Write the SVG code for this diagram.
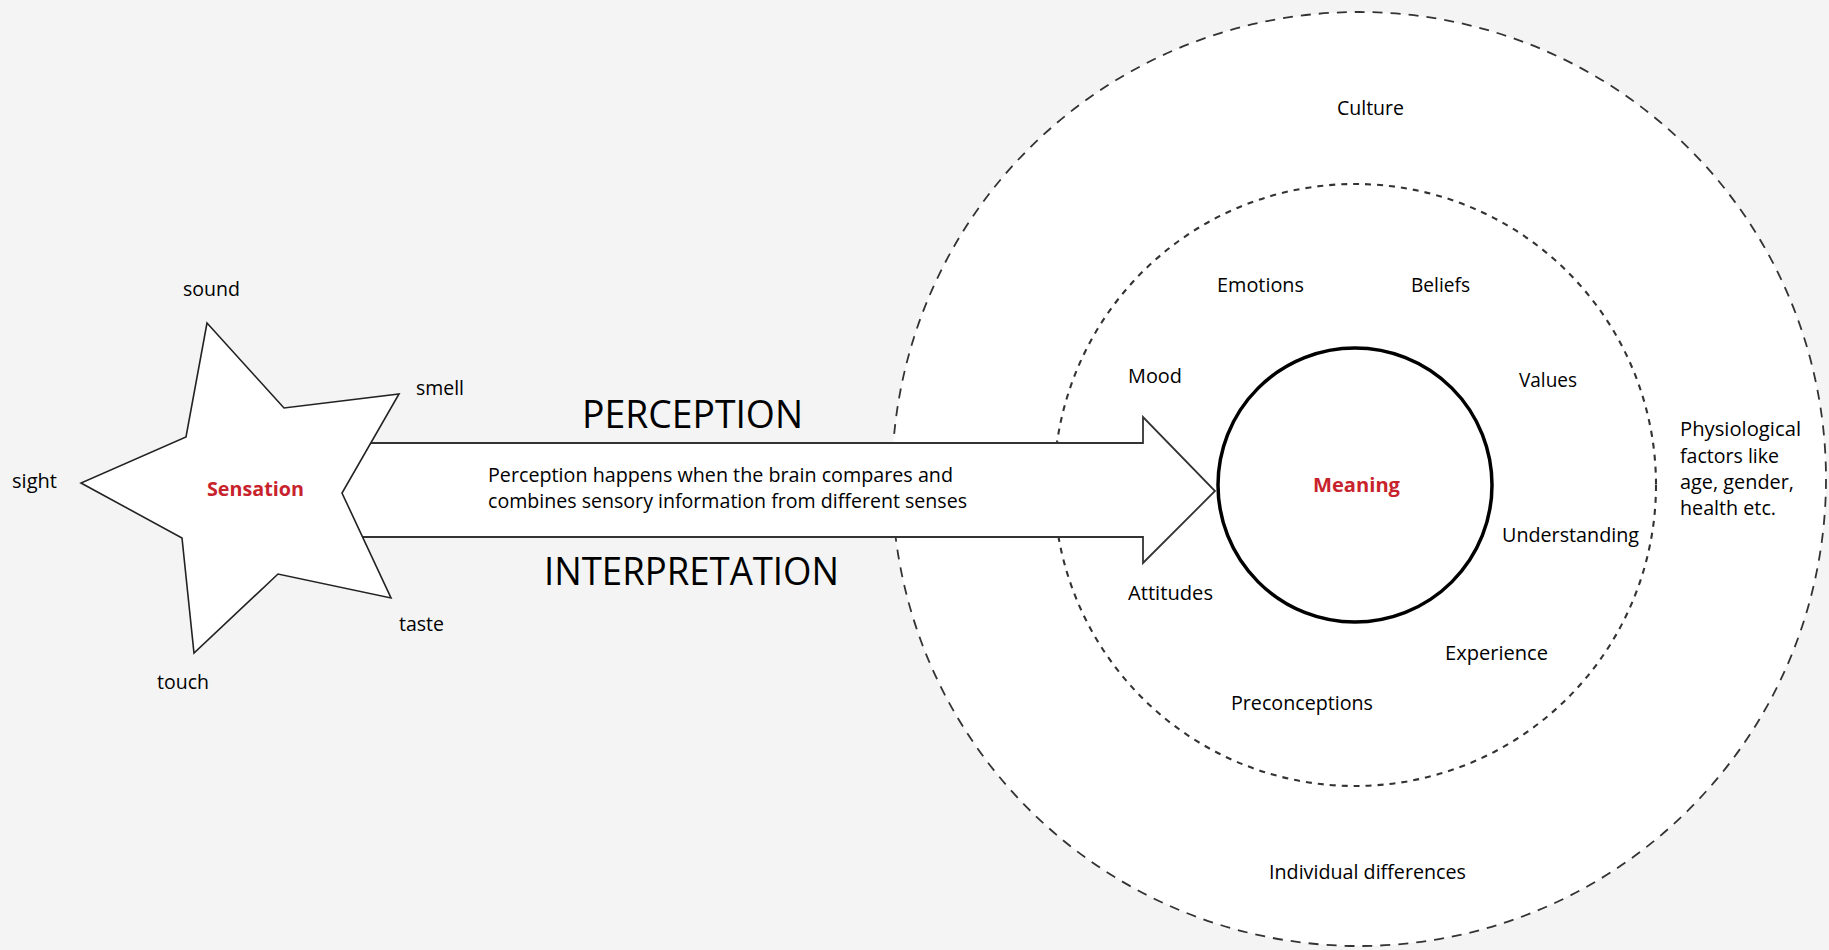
<svg xmlns="http://www.w3.org/2000/svg" width="1829" height="950" viewBox="0 0 1829 950">
  <style>
    text { font-family: "Open Sans", "Noto Sans", "Liberation Sans", sans-serif; fill: #000; font-size: 20px; }
    .big { font-size: 39px; }
    .key { font-weight: bold; fill: #c8232c; }
    .ring { fill: #fff; stroke: #333; }
  </style>
  <rect width="1829" height="950" fill="#f4f4f4"/>

  <!-- influence rings -->
  <g id="outer-ring">
    <circle class="ring" cx="1359" cy="479" r="467" stroke-width="1.8" stroke-dasharray="10 8"/>
    <text x="1337" y="115" textLength="67" lengthAdjust="spacingAndGlyphs">Culture</text>
    <text x="1269" y="879" textLength="197" lengthAdjust="spacingAndGlyphs">Individual differences</text>
    <text x="1680" y="436" textLength="121" lengthAdjust="spacingAndGlyphs">Physiological</text>
    <text x="1680" y="463" textLength="99" lengthAdjust="spacingAndGlyphs">factors like</text>
    <text x="1680" y="489" textLength="114" lengthAdjust="spacingAndGlyphs">age, gender,</text>
    <text x="1680" y="515" textLength="96" lengthAdjust="spacingAndGlyphs">health etc.</text>
  </g>

  <g id="middle-ring">
    <circle class="ring" cx="1355" cy="485" r="301" stroke-width="2.1" stroke-dasharray="6 6"/>
    <text x="1217" y="292" textLength="87" lengthAdjust="spacingAndGlyphs">Emotions</text>
    <text x="1411" y="292" textLength="59" lengthAdjust="spacingAndGlyphs">Beliefs</text>
    <text x="1128" y="383" textLength="54" lengthAdjust="spacingAndGlyphs">Mood</text>
    <text x="1519" y="387" textLength="58" lengthAdjust="spacingAndGlyphs">Values</text>
    <text x="1502" y="542" textLength="137" lengthAdjust="spacingAndGlyphs">Understanding</text>
    <text x="1128" y="600" textLength="85" lengthAdjust="spacingAndGlyphs">Attitudes</text>
    <text x="1445" y="660" textLength="103" lengthAdjust="spacingAndGlyphs">Experience</text>
    <text x="1231" y="710" textLength="142" lengthAdjust="spacingAndGlyphs">Preconceptions</text>
  </g>

  <!-- connector: wide arrow from sensation to meaning -->
  <g id="connectors">
    <polygon points="330,443 1143,443 1143,417 1215,491 1143,563 1143,537 330,537" fill="#fff" stroke="#333" stroke-width="1.8" stroke-linejoin="miter"/>
    <text class="big" x="582" y="428" textLength="221" lengthAdjust="spacingAndGlyphs">PERCEPTION</text>
    <text class="big" x="544" y="585" textLength="295" lengthAdjust="spacingAndGlyphs">INTERPRETATION</text>
    <text x="488" y="482" textLength="465" lengthAdjust="spacingAndGlyphs">Perception happens when the brain compares and</text>
    <text x="488" y="508" textLength="479" lengthAdjust="spacingAndGlyphs">combines sensory information from different senses</text>
  </g>

  <g id="sensation">
    <polygon points="207,323 284,408 399,394 342,493 391,598 278,574 194,653 182,538 81,483 186,437" fill="#fff" stroke="#222" stroke-width="1.6" stroke-linejoin="miter"/>
    <text class="key" x="207" y="496" textLength="97" lengthAdjust="spacingAndGlyphs">Sensation</text>
    <text x="183" y="296" textLength="57" lengthAdjust="spacingAndGlyphs">sound</text>
    <text x="416" y="395" textLength="48" lengthAdjust="spacingAndGlyphs">smell</text>
    <text x="12" y="488" textLength="45" lengthAdjust="spacingAndGlyphs">sight</text>
    <text x="399" y="631" textLength="45" lengthAdjust="spacingAndGlyphs">taste</text>
    <text x="157" y="689" textLength="52" lengthAdjust="spacingAndGlyphs">touch</text>
  </g>

  <g id="meaning">
    <circle cx="1355" cy="485" r="137" fill="#fff" stroke="#000" stroke-width="3.5"/>
    <text class="key" x="1313" y="492" font-size="22" textLength="87" lengthAdjust="spacingAndGlyphs">Meaning</text>
  </g>
</svg>
